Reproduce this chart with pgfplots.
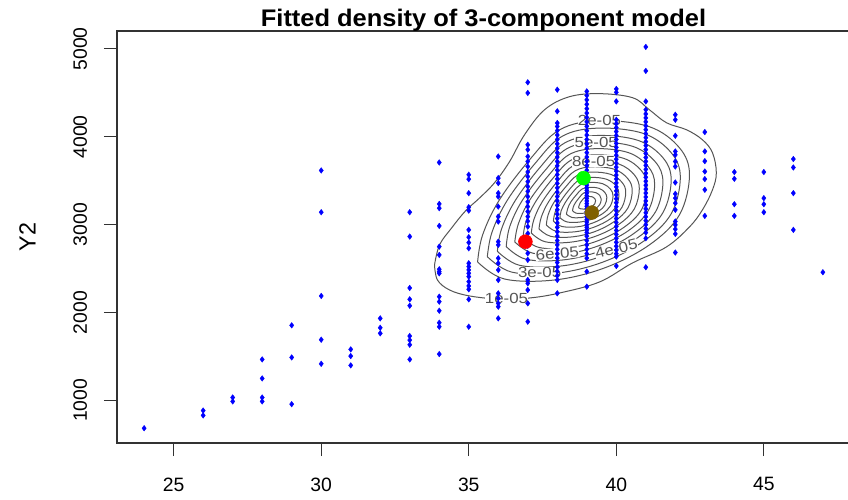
\documentclass[border=0pt]{standalone}
\usepackage{pgfplots}
\pgfplotsset{compat=1.18}
\usepackage{fontspec}
\setmainfont{Liberation Sans}
\newfontfamily\sfont[FakeStretch=1.06]{Liberation Sans}
\newfontfamily\lfont[FakeStretch=1.15]{Liberation Sans}
\definecolor{cgray}{RGB}{85,85,85}
\definecolor{olivedot}{RGB}{128,96,0}
\definecolor{axgray}{RGB}{50,50,50}
\tikzset{clab/.style={font=\fontsize{11}{12}\lfont, text=cgray, fill=white, inner sep=0.3pt}}
\pgfplotsset{cstyle/.style={cgray, line width=0.75pt, smooth, tension=0.6, no marks}}
\begin{document}
\begin{tikzpicture}
\begin{axis}[
  at={(0,0)}, anchor=south west,
  scale only axis, width=549.75pt, height=309pt,
  xmin=23.08, xmax=47.92, ymin=516, ymax=5204,
  xtick={25,30,35,40,45}, xticklabels={25,30,35,40,45},
  ytick={1000,2000,3000,4000,5000}, yticklabels={1000,2000,3000,4000,5000},
  scaled ticks=false,
  xtick pos=bottom, ytick pos=left,
  tick align=outside, major tick length=9.75pt,
  tick style={axgray, line width=0.8pt},
  axis line style={axgray, line width=0.8pt},
  xticklabel style={font=\fontsize{14.5}{16}\selectfont, anchor=north, inner sep=0pt},
  xticklabel shift=16pt,
  yticklabel style={font=\fontsize{14.5}{16}\selectfont, rotate=90, anchor=south, inner sep=0pt},
  yticklabel shift=12.5pt,
  title={Fitted density of 3-component model},
  title style={font=\fontsize{18}{21}\sfont\bfseries, at={(0.5,1)}, anchor=base, yshift=-3pt},
  ylabel={Y2},
  ylabel style={font=\fontsize{17.5}{20}\selectfont, at={(axis description cs:-0.1221,0.5)}, anchor=center},
]
% contours
\addplot[cstyle] coordinates {(33.84,2542)(34.01,2770)(34.42,2963)(34.89,3157)(35.37,3305)(35.87,3476)(36.38,3716)(36.89,4023)(37.57,4308)(38.41,4456)(39.43,4491)(40.55,4445)(41.12,4308)(41.70,4160)(42.38,4080)(42.92,3966)(43.26,3818)(43.39,3590)(43.26,3397)(42.92,3169)(42.48,2975)(41.70,2747)(40.55,2565)(39.43,2348)(38.08,2223)(37.06,2166)(36.04,2154)(35.03,2189)(34.35,2257)(33.94,2371)(33.84,2542)};
\addplot[cstyle] coordinates {(35.30,2576)(35.47,2884)(36.04,3283)(37.06,3738)(38.08,4080)(39.43,4183)(41.12,4115)(42.14,3875)(42.48,3567)(42.14,3112)(41.12,2770)(39.60,2508)(37.91,2371)(36.21,2382)(35.30,2576)};
\addplot[cstyle] coordinates {(35.63,2636)(35.79,2917)(36.31,3280)(37.24,3694)(38.16,4005)(39.39,4099)(40.93,4037)(41.86,3819)(42.17,3538)(41.86,3124)(40.93,2813)(39.55,2575)(38.01,2450)(36.46,2460)(35.63,2636)};
\addplot[cstyle] coordinates {(35.97,2697)(36.11,2950)(36.58,3277)(37.41,3650)(38.25,3930)(39.36,4015)(40.74,3959)(41.58,3762)(41.86,3510)(41.58,3137)(40.74,2856)(39.50,2641)(38.11,2529)(36.72,2538)(35.97,2697)};
\addplot[cstyle] coordinates {(36.27,2751)(36.39,2979)(36.81,3274)(37.57,3611)(38.32,3864)(39.32,3940)(40.57,3890)(41.33,3712)(41.58,3484)(41.33,3147)(40.57,2894)(39.45,2700)(38.20,2599)(36.94,2607)(36.27,2751)};
\addplot[cstyle] coordinates {(36.56,2804)(36.68,3008)(37.05,3271)(37.73,3571)(38.40,3797)(39.29,3865)(40.41,3820)(41.08,3662)(41.30,3459)(41.08,3158)(40.41,2932)(39.40,2760)(38.29,2669)(37.17,2676)(36.56,2804)};
\addplot[cstyle] coordinates {(36.84,2855)(36.94,3035)(37.28,3269)(37.87,3535)(38.47,3735)(39.26,3795)(40.25,3755)(40.85,3615)(41.04,3435)(40.85,3168)(40.25,2968)(39.36,2815)(38.37,2735)(37.38,2741)(36.84,2855)};
\addplot[cstyle] coordinates {(37.12,2905)(37.21,3062)(37.50,3266)(38.02,3498)(38.54,3672)(39.23,3725)(40.09,3690)(40.61,3568)(40.78,3411)(40.61,3179)(40.09,3004)(39.32,2871)(38.45,2801)(37.59,2806)(37.12,2905)};
\addplot[cstyle] coordinates {(37.38,2952)(37.46,3088)(37.71,3263)(38.16,3464)(38.61,3614)(39.20,3659)(39.94,3630)(40.39,3524)(40.54,3388)(40.39,3188)(39.94,3038)(39.28,2922)(38.53,2862)(37.78,2867)(37.38,2952)};
\addplot[cstyle] coordinates {(37.63,2996)(37.69,3112)(37.90,3261)(38.29,3432)(38.67,3560)(39.17,3599)(39.81,3573)(40.19,3483)(40.32,3368)(40.19,3197)(39.81,3069)(39.24,2971)(38.60,2919)(37.97,2923)(37.63,2996)};
\addplot[cstyle] coordinates {(37.87,3040)(37.92,3135)(38.10,3259)(38.41,3400)(38.73,3506)(39.15,3538)(39.67,3517)(39.99,3442)(40.09,3347)(39.99,3206)(39.67,3100)(39.20,3019)(38.68,2976)(38.15,2980)(37.87,3040)};
\addplot[cstyle] coordinates {(38.09,3080)(38.13,3157)(38.28,3257)(38.53,3371)(38.79,3456)(39.12,3482)(39.55,3465)(39.80,3405)(39.89,3328)(39.80,3214)(39.55,3129)(39.17,3063)(38.74,3029)(38.32,3032)(38.09,3080)};
\addplot[cstyle] coordinates {(38.31,3120)(38.35,3179)(38.45,3255)(38.65,3341)(38.84,3406)(39.10,3426)(39.42,3413)(39.61,3367)(39.68,3309)(39.61,3222)(39.42,3157)(39.13,3107)(38.81,3081)(38.49,3083)(38.31,3120)};
\addplot[cstyle] coordinates {(38.52,3157)(38.54,3199)(38.62,3253)(38.76,3314)(38.89,3360)(39.08,3374)(39.30,3365)(39.44,3333)(39.49,3291)(39.44,3230)(39.30,3184)(39.10,3148)(38.87,3130)(38.64,3131)(38.52,3157)};
\addplot[cstyle] coordinates {(38.72,3194)(38.74,3219)(38.78,3251)(38.86,3287)(38.94,3315)(39.05,3323)(39.19,3317)(39.27,3298)(39.30,3274)(39.27,3237)(39.19,3210)(39.07,3189)(38.93,3178)(38.80,3179)(38.72,3194)};
% contour labels
\node[clab] at (axis cs:36.28,2160) {1e-05};
\node[clab] at (axis cs:39.43,4183) {2e-05};
\node[clab] at (axis cs:37.40,2460) {3e-05};
\node[clab, rotate=14] at (axis cs:40.0,2725) {4e-05};
\node[clab] at (axis cs:39.32,3940) {5e-05};
\node[clab, rotate=5] at (axis cs:38.0,2672) {6e-05};
\node[clab] at (axis cs:39.23,3725) {8e-05};
% data points
\addplot[only marks, mark=diamond*, mark size=2.1pt, color=blue, mark options={draw=blue, fill=blue, line width=0.3pt}] table {
x y
24 684
26 885
26 830
27 1034
27 989
28 1467
28 1251
28 1034
28 989
29 1855
29 1490
29 958
30 3617
30 3142
30 2189
30 1691
30 1417
31 1581
31 1505
31 1399
32 1934
32 1827
32 1764
33 3142
33 2865
33 2280
33 2151
33 2078
33 1733
33 1687
33 1634
33 1467
34 3708
34 3236
34 3188
34 2986
34 2750
34 2656
34 2493
34 2466
34 2447
34 2181
34 2124
34 2021
34 1884
34 1839
34 1528
35 3568
35 3518
35 3359
35 3199
35 3161
35 2941
35 2858
35 2796
35 2732
35 2561
35 2523
35 2485
35 2447
35 2409
35 2352
35 2303
35 2265
35 2151
35 1839
36 3776
36 3530
36 3473
36 3359
36 3320
36 3206
36 3092
36 3035
36 2807
36 2770
36 2618
36 2561
36 2485
36 2371
36 2219
36 2162
36 2105
36 2067
36 1934
37 4620
37 4499
37 3909
37 3853
37 3776
37 3720
37 3662
37 3600
37 3548
37 3490
37 3434
37 3380
37 3320
37 3260
37 3206
37 3150
37 3092
37 3040
37 2978
37 2900
37 2827
37 2760
37 2675
37 2600
37 2371
37 2333
37 2257
37 2105
37 1896
38 4536
38 4290
38 4157
38 4118
38 4070
38 4020
38 3970
38 3920
38 3870
38 3820
38 3770
38 3720
38 3670
38 3620
38 3570
38 3520
38 3470
38 3420
38 3370
38 3320
38 3270
38 3220
38 3170
38 3120
38 3070
38 3020
38 2970
38 2920
38 2870
38 2820
38 2770
38 2720
38 2670
38 2620
38 2570
38 2520
38 2470
38 2420
38 2371
38 2219
39 4517
39 4470
39 4420
39 4370
39 4320
39 4270
39 4220
39 4170
39 4120
39 4070
39 4020
39 3970
39 3920
39 3870
39 3820
39 3770
39 3720
39 3670
39 3620
39 3570
39 3540
39 3510
39 3480
39 3450
39 3420
39 3390
39 3360
39 3330
39 3300
39 3270
39 3240
39 3210
39 3180
39 3150
39 3120
39 3090
39 3060
39 3030
39 3000
39 2970
39 2940
39 2910
39 2870
39 2820
39 2770
39 2720
39 2670
39 2620
39 2466
39 2295
40 4545
40 4506
40 4403
40 4194
40 4150
40 4105
40 4060
40 4015
40 3970
40 3925
40 3880
40 3835
40 3790
40 3745
40 3700
40 3655
40 3610
40 3565
40 3520
40 3475
40 3430
40 3385
40 3340
40 3295
40 3250
40 3205
40 3160
40 3115
40 3070
40 3025
40 2980
40 2935
40 2890
40 2845
40 2800
40 2755
40 2710
40 2670
40 2637
40 2530
41 5023
41 4750
41 4403
41 4308
41 4260
41 4215
41 4170
41 4125
41 4080
41 4035
41 3990
41 3945
41 3900
41 3855
41 3810
41 3765
41 3720
41 3675
41 3630
41 3585
41 3540
41 3495
41 3450
41 3405
41 3360
41 3315
41 3270
41 3225
41 3180
41 3135
41 3090
41 3045
41 3000
41 2955
41 2910
41 2846
41 2516
42 4251
42 4194
42 4012
42 3834
42 3795
42 3719
42 3662
42 3480
42 3351
42 3302
42 3245
42 3169
42 3036
42 2998
42 2949
42 2895
42 2683
43 4054
43 3834
43 3723
43 3605
43 3519
43 3397
43 3100
44 3599
44 3522
44 3233
44 3100
45 3599
45 3302
45 3233
45 3142
46 3747
46 3651
46 3359
46 2941
47 2459
};
% component centres
\addplot[only marks, mark=*, mark size=5.2pt, red, mark options={draw=red, fill=red}] coordinates {(36.92,2807)};
\addplot[only marks, mark=*, mark size=5.2pt, green, mark options={draw=green, fill=green}] coordinates {(38.89,3530)};
\addplot[only marks, mark=*, mark size=5.2pt, olivedot, mark options={draw=olivedot, fill=olivedot}] coordinates {(39.17,3138)};
\end{axis}
\pgfresetboundingbox
\useasboundingbox (-87.75pt,-42pt) rectangle (548.25pt,332.25pt);
\end{tikzpicture}
\end{document}
